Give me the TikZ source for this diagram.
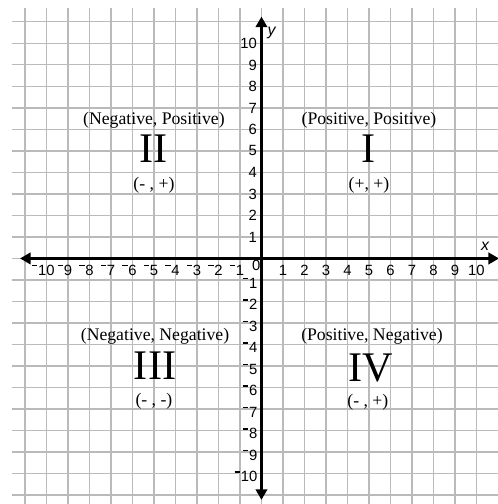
\documentclass[tikz,border=0pt]{standalone}
\usepackage{fontspec}
\setmainfont{Liberation Serif}
\newfontfamily\numfont{Liberation Sans}
\usetikzlibrary{arrows.meta}
\newcommand{\mn}{\rule[0.63em]{0.36em}{0.085em}\hspace{0.05em}}
\tikzset{
  gridln/.style={draw=black!27, line width=0.75pt},
  axisln/.style={draw=black, line width=2pt,
    {Triangle[length=7pt,width=7.5pt]}-{Triangle[length=7pt,width=7.5pt]}},
  num/.style={font=\numfont\fontsize{9.8}{11}\selectfont, inner sep=0pt},
  axlab/.style={font=\numfont\itshape\fontsize{10.5}{12}\selectfont, inner sep=0pt},
  qsign/.style={font=\fontsize{11.7}{13}\selectfont, inner sep=0pt},
  qroman/.style={font=\fontsize{27.9}{30}\selectfont, inner sep=0pt},
}

\begin{document}
\begin{tikzpicture}[x=0.5cm,y=0.5cm]
\useasboundingbox (-12.16,-11.42) rectangle (11.0,12.02);

% ---------------- grid -----------------------------------------------------------
\foreach \k in {-11,...,11} \draw[gridln] (-11.6,\k) -- (11.0,\k);
\foreach \k in {-11,...,10} \draw[gridln] (\k,-11.42) -- (\k,11.65);

% ---------------- axes -----------------------------------------------------------
\coordinate (xw) at (-11.23,0);
\coordinate (xe) at (11.05,0);
\coordinate (ys) at (0,-11.23);
\coordinate (yn) at (0,11.25);
\draw[axisln] (xw) -- (xe);
\draw[axisln] (ys) -- (yn);
\node[axlab] (xlab) at (10.4,0.58) {x};
\node[axlab] (ylab) at (0.47,10.5) {y};

% ---------------- tick labels ----------------------------------------------------
\foreach \k in {1,...,10} \node[num, anchor=base] (xp\k) at (\k,-0.8) {\k};
\foreach \k in {1,...,10} \node[num, anchor=base] (xn\k) at (-\k,-0.8) {\llap{\mn}\k};
\foreach \k in {1,...,10} \node[num, anchor=east] (yp\k) at (-0.2,\k) {\k};
\foreach \k in {1,...,10} \node[num, anchor=east] (yn\k) at (-0.18,-\k-0.15) {\mn\k};
\node[num, anchor=north east] (zero) at (-0.04,-0.06) {0};

% ---------------- quadrants ------------------------------------------------------
\node[qsign] (q2t) at (-5,6.44) {(Negative, Positive)};
\node[qroman] (q2n) at (-5,5.09) {II};
\node[qsign] (q2b) at (-5,3.4) {(- , +)};

\node[qsign] (q1t) at (5,6.44) {(Positive, Positive)};
\node[qroman] (q1n) at (5,5.09) {I};
\node[qsign] (q1b) at (5,3.4) {(+, +)};

\node[qsign] (q3t) at (-4.95,-3.6) {(Negative, Negative)};
\node[qroman] (q3n) at (-4.95,-5.0) {III};
\node[qsign] (q3b) at (-5,-6.63) {(- , -)};

\node[qsign] (q4t) at (5.14,-3.6) {(Positive, Negative)};
\node[qroman] (q4n) at (5.1,-5.09) {IV};
\node[qsign] (q4b) at (4.95,-6.67) {(- , +)};

\end{tikzpicture}
\end{document}
